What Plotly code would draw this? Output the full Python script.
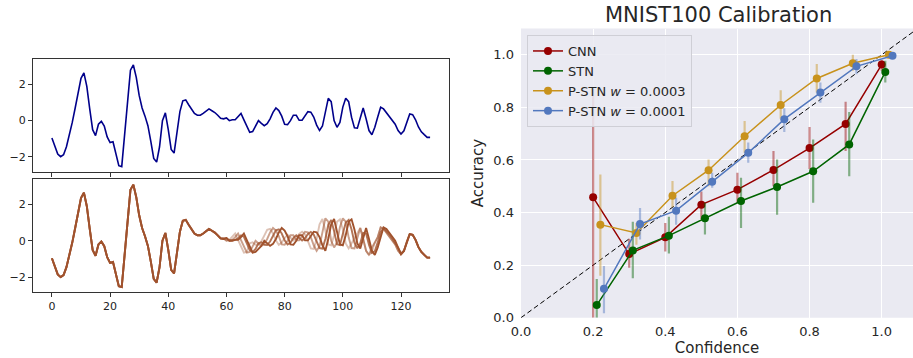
import plotly.graph_objects as go

# ---------------- left: time series ----------------
t_steps = list(range(131))
original = [
    -0.96, -1.45, -1.85, -2.0, -1.89, -1.45, -0.85, -0.1, 0.7, 1.55,
    2.35, 2.65, 1.9, 0.65, -0.5, -0.83, -0.2, -0.04, -0.3, -0.9,
    -1.22, -1.17, -1.8, -2.5, -2.55, -0.8, 1.0, 2.8, 3.09, 2.4,
    1.4, 0.7, 0.25, -0.28, -1.15, -2.1, -2.3, -1.45, 0.0, 0.43,
    -0.5, -1.6, -1.8, -0.65, 0.5, 1.1, 1.15, 0.88, 0.6, 0.4,
    0.3, 0.3, 0.4, 0.55, 0.65, 0.55, 0.45, 0.3, 0.13, 0.1,
    0.15, 0.0, 0.05, 0.05, 0.2, 0.4, 0.04, -0.35, -0.65, -0.61,
    -0.28, 0.0, -0.15, -0.28, -0.17, 0.1, 0.46, 0.7, 0.56, 0.25,
    -0.2, -0.22, 0.0, 0.3, 0.3, 0.02, 0.02, 0.25, 0.5, 0.47,
    0.2, -0.25, -0.55, -0.3, 0.5, 1.24, 1.05, 0.0, -0.37, -0.1,
    0.75, 1.24, 1.05, 0.19, -0.4, -0.42, 0.15, 0.7, 0.1, -0.55,
    -0.78, -0.37, 0.2, 0.74, 0.65, 0.45, 0.25, 0.0, -0.2, -0.55,
    -0.74, -0.56, -0.05, 0.37, 0.33, 0.05, -0.35, -0.62, -0.78, -0.93, -0.93,
]
# warped copies: shared start (t<58) and end (t>120), own middle section t=58..120
warp_a_mid = [0.13, 0.15, 0.02, 0.05,
              0.2, 0.4, 0.04, -0.35, -0.65, -0.61, -0.14, -0.08, -0.22, -0.22,
              -0.03, 0.28, 0.6, 0.65, 0.4, 0.02, -0.22, -0.1, 0.15, 0.32,
              0.15, 0.02, 0.13, 0.38, 0.5, 0.35, -0.02, -0.42, -0.45, 0.1,
              0.9, 1.2, 0.55, -0.2, -0.25, 0.3, 1.05, 1.18, 0.62, -0.15,
              -0.42, -0.15, 0.15, 0.45, 0.7, 0.1, -0.55, -0.78, -0.6, -0.1,
              0.2, 0.74, 0.65, 0.45, 0.25, 0.0, -0.2, -0.55, -0.74]
warp_b_mid = [0.13, 0.13, 0.0, 0.05,
              0.05, 0.2, 0.4, 0.04, -0.35, -0.65, -0.61, -0.28, 0.0, -0.15,
              -0.28, -0.17, 0.1, 0.46, 0.7, 0.56, 0.25, -0.2, -0.22, 0.0,
              0.3, 0.3, 0.02, 0.02, 0.25, 0.5, 0.47, 0.2, -0.25, -0.55,
              -0.3, 0.5, 1.24, 1.05, 0.0, -0.37, -0.1, 0.75, 1.24, 1.05,
              0.19, -0.4, -0.42, 0.15, 0.7, 0.1, -0.55, -0.78, -0.37, -0.1,
              0.2, 0.74, 0.65, 0.45, 0.25, 0.0, -0.2, -0.55, -0.74]
warp_c_mid = [0.13, 0.1, 0.15, 0.0,
              0.03, 0.05, 0.13, 0.3, 0.22, -0.16, -0.5, -0.63, -0.45, -0.14,
              -0.08, -0.22, -0.23, -0.04, 0.28, 0.58, 0.63, 0.4, 0.03, -0.21,
              -0.11, 0.15, 0.3, 0.16, 0.02, 0.14, 0.38, 0.49, 0.34, -0.03,
              -0.4, -0.43, 0.1, 0.87, 1.15, 0.53, -0.19, -0.24, 0.33, 1.0,
              1.15, 0.62, -0.11, -0.41, -0.14, 0.43, 0.4, -0.23, -0.67, -0.58,
              -0.09, 0.47, 0.7, 0.55, 0.35, 0.13, -0.1, -0.38, -0.7]
warp_d_mid = [0.13, 0.1, 0.15, 0.0,
              0.0, 0.05, 0.05, 0.2, 0.4, 0.04, -0.35, -0.65, -0.61, -0.45,
              -0.28, 0.0, -0.15, -0.28, -0.17, 0.1, 0.46, 0.7, 0.56, 0.25,
              -0.2, -0.22, 0.0, 0.3, 0.3, 0.02, 0.02, 0.25, 0.5, 0.47,
              0.2, -0.25, -0.55, 0.1, 0.9, 1.2, 0.55, -0.2, -0.25, 0.3,
              1.05, 1.18, 0.62, -0.15, -0.42, 0.15, 0.7, 0.1, -0.55, -0.78,
              -0.37, 0.2, 0.74, 0.65, 0.45, 0.25, 0.0, -0.38, -0.74]
warp_mids = [warp_a_mid, warp_b_mid, warp_c_mid, warp_d_mid]
warp_alphas = [0.35, 0.55, 0.8, 1.0]
x_ticks_left = [0, 20, 40, 60, 80, 100, 120]
y_ticks_left = [-2, 0, 2]

# ---------------- right: calibration ----------------
cnn_conf = [0.20, 0.30, 0.40, 0.50, 0.60, 0.70, 0.80, 0.90, 1.00]
cnn_acc = [0.458, 0.242, 0.306, 0.430, 0.487, 0.562, 0.645, 0.737, 0.963]
cnn_lo = [0.0, 0.19, 0.252, 0.375, 0.437, 0.50, 0.566, 0.634, 0.939]
cnn_hi = [0.87, 0.30, 0.36, 0.48, 0.551, 0.634, 0.725, 0.821, 0.98]

stn_conf = [0.21, 0.31, 0.41, 0.51, 0.61, 0.71, 0.81, 0.91, 1.01]
stn_acc = [0.048, 0.256, 0.312, 0.378, 0.444, 0.497, 0.557, 0.659, 0.935]
stn_lo = [0.0, 0.15, 0.244, 0.316, 0.341, 0.392, 0.437, 0.538, 0.895]
stn_hi = [0.147, 0.365, 0.384, 0.437, 0.532, 0.602, 0.678, 0.782, 0.977]

p3_conf = [0.22, 0.32, 0.42, 0.52, 0.62, 0.72, 0.82, 0.92, 1.02]
p3_acc = [0.354, 0.322, 0.464, 0.561, 0.690, 0.809, 0.910, 0.968, 1.0]
p3_lo = [0.16, 0.277, 0.42, 0.50, 0.627, 0.757, 0.857, 0.939, 1.0]
p3_hi = [0.545, 0.36, 0.52, 0.602, 0.748, 0.865, 0.965, 1.0, 1.0]

p1_conf = [0.23, 0.33, 0.43, 0.53, 0.63, 0.73, 0.83, 0.93, 1.03]
p1_acc = [0.110, 0.356, 0.407, 0.517, 0.627, 0.755, 0.857, 0.956, 0.996]
p1_lo = [0.017, 0.297, 0.354, 0.494, 0.589, 0.706, 0.818, 0.926, 0.99]
p1_hi = [0.197, 0.417, 0.456, 0.551, 0.666, 0.797, 0.895, 0.984, 1.0]

series_names = ["CNN", "STN", "P-STN <i>w</i> = 0.0003", "P-STN <i>w</i> = 0.0001"]
series_colors = ["#960000", "#006400", "#C8921C", "#5278BE"]
series_err_colors = ["rgba(150,0,0,0.45)", "rgba(0,100,0,0.45)",
                     "rgba(200,146,28,0.45)", "rgba(82,120,190,0.45)"]
cal_ticks = [0.0, 0.2, 0.4, 0.6, 0.8, 1.0]
cal_ticktext = ["0.0", "0.2", "0.4", "0.6", "0.8", "1.0"]

W, H = 913, 358
def px_x(p):
    return p / W
def px_y(p):
    return 1 - p / H

fig = go.Figure()

# top panel
fig.add_trace(go.Scatter(x=t_steps, y=original, mode="lines",
                         line=dict(color="#00008B", width=1.6),
                         xaxis="x", yaxis="y", showlegend=False))
# bottom panel
prefix = original[:58]
suffix = original[121:]
for mid, a in zip(warp_mids, warp_alphas):
    ys = prefix + mid + suffix
    fig.add_trace(go.Scatter(x=list(range(len(ys))), y=ys, mode="lines",
                             line=dict(color="#A0522D", width=1.9),
                             opacity=a, xaxis="x2", yaxis="y2", showlegend=False))

# calibration
fig.add_trace(go.Scatter(x=[0, 1.2], y=[0, 1.2], mode="lines",
                         line=dict(color="black", width=1, dash="5px,3px"),
                         xaxis="x3", yaxis="y3", showlegend=False))
cal = [(cnn_conf, cnn_acc, cnn_lo, cnn_hi), (stn_conf, stn_acc, stn_lo, stn_hi),
       (p3_conf, p3_acc, p3_lo, p3_hi), (p1_conf, p1_acc, p1_lo, p1_hi)]
for (cx, cy, lo, hi), name, col, ecol in zip(cal, series_names, series_colors, series_err_colors):
    fig.add_trace(go.Scatter(
        x=cx, y=cy, mode="lines+markers", name=name,
        line=dict(color=col, width=1.5),
        marker=dict(color=col, size=8),
        error_y=dict(type="data", symmetric=False,
                     array=[h - v for h, v in zip(hi, cy)],
                     arrayminus=[v - l for l, v in zip(lo, cy)],
                     color=ecol, thickness=2.2, width=0),
        xaxis="x3", yaxis="y3"))

left_dom = [px_x(33), px_x(449)]
frame = dict(showline=True, linecolor="#333333", linewidth=1, mirror=True,
             showgrid=False, zeroline=False, ticks="outside", ticklen=4,
             tickcolor="#333333", automargin=False,
             tickfont=dict(family="DejaVu Sans", size=11, color="#222222"))

fig.update_layout(
    width=W, height=H, margin=dict(l=0, r=0, t=0, b=0, autoexpand=False),
    paper_bgcolor="white", plot_bgcolor="white",
    font=dict(family="DejaVu Sans", color="#262626"),
    xaxis=dict(domain=left_dom, anchor="y", range=[-6.5, 136.5],
               tickvals=x_ticks_left, showticklabels=False, **frame),
    yaxis=dict(domain=[px_y(172), px_y(59)], anchor="x", range=[-2.85, 3.42],
               tickvals=y_ticks_left, ticktext=["\u22122", "0", "2"], **frame),
    xaxis2=dict(domain=left_dom, anchor="y2", range=[-6.5, 136.5],
                tickvals=x_ticks_left, **frame),
    yaxis2=dict(domain=[px_y(292), px_y(179)], anchor="x2", range=[-2.82, 3.4],
                tickvals=y_ticks_left, ticktext=["\u22122", "0", "2"], **frame),
    xaxis3=dict(domain=[px_x(521), 1.0], anchor="y3", range=[0, 1.0868],
                tickvals=cal_ticks, ticktext=cal_ticktext,
                showgrid=True, gridcolor="white", gridwidth=1.3, zeroline=False,
                showline=False, ticks="", ticklabelstandoff=4, automargin=False,
                tickfont=dict(family="DejaVu Sans", size=13, color="#262626"),
                title=dict(text="Confidence", standoff=2,
                           font=dict(family="DejaVu Sans", size=15, color="#262626"))),
    yaxis3=dict(domain=[px_y(317.7), px_y(28.5)], anchor="x3", range=[0, 1.1],
                tickvals=cal_ticks, ticktext=cal_ticktext,
                showgrid=True, gridcolor="white", gridwidth=1.3, zeroline=False,
                showline=False, ticks="", ticklabelstandoff=6, automargin=False,
                tickfont=dict(family="DejaVu Sans", size=13, color="#262626"),
                title=dict(text="Accuracy", standoff=6,
                           font=dict(family="DejaVu Sans", size=15, color="#262626"))),
    legend=dict(x=px_x(527), y=px_y(35), xanchor="left", yanchor="top",
                bgcolor="rgba(234,234,242,0.85)", bordercolor="#cfcfd6", borderwidth=1,
                font=dict(family="DejaVu Sans", size=13, color="#262626"),
                tracegroupgap=0, itemwidth=30),
    annotations=[dict(text="MNIST100 Calibration", x=px_x(718), y=px_y(15),
                      xref="paper", yref="paper", xanchor="center", yanchor="middle",
                      showarrow=False,
                      font=dict(family="DejaVu Sans", size=21, color="#262626"))],
)
fig.add_shape(type="rect", xref="x3 domain", yref="y3 domain", x0=0, y0=0, x1=1, y1=1,
              fillcolor="#EAEAF2", line=dict(width=0), layer="below")

# remove the browser's default body margin so the figure fills the window exactly
fig.write_html("out.html", config={"displayModeBar": False},
               post_script="document.body.style.margin='0';document.body.style.overflow='hidden';")
